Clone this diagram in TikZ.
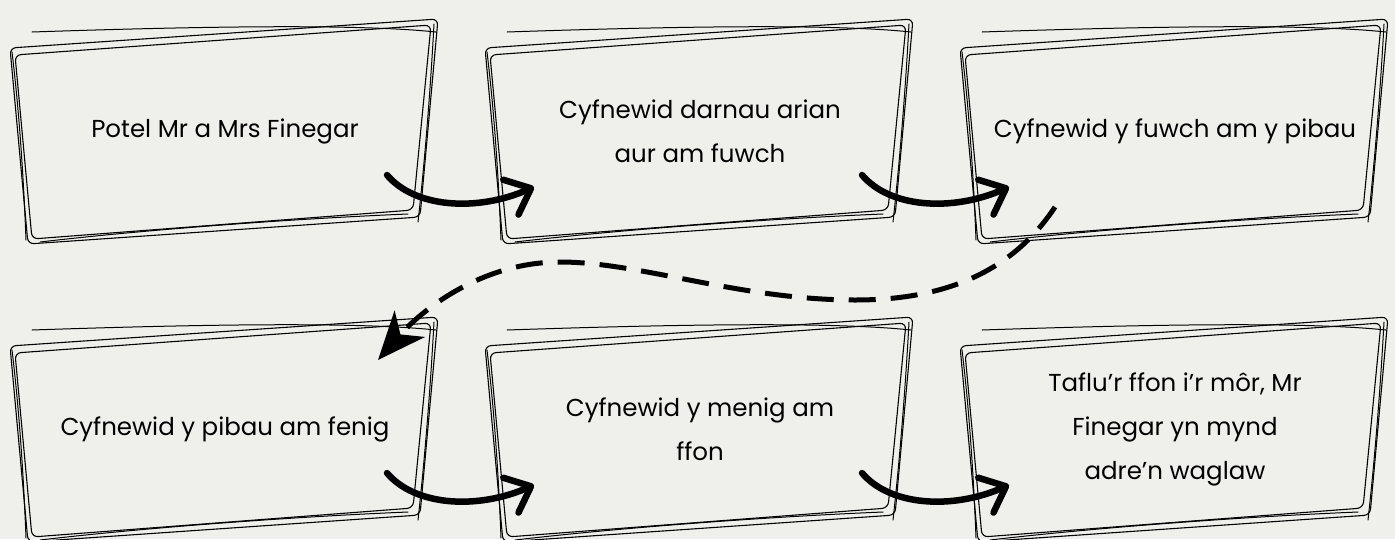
\documentclass[tikz,border=0pt]{standalone}
\usepackage{fontspec}
\setmainfont{Poppins}
\usetikzlibrary{arrows.meta,calc}
\definecolor{bg}{HTML}{EFEFEB}
\newcommand\skbox[4]{%
\begin{scope}[shift={(#2,#3)}]
 \draw[sk] (0,30) -- (428,1) -- (410,199) -- (18,226) -- cycle;
 \draw[sk] (5,37) -- (421,7) -- (403,192) -- (22,221) -- cycle;
 \draw[skl] (22,14) .. controls (200,8) and (350,6) .. (426,14);
 \draw[skl] (30,224) .. controls (150,210) and (300,200) .. (398,196);
 \draw[skl] (2,34) .. controls (10,100) and (14,170) .. (16,222);
 \draw[skl] (424,6) .. controls (420,80) and (414,150) .. (408,204);
 \node[txt] (#1) at (215,113) {#4};
 \coordinate (#1-out) at (377,157);
 \coordinate (#1-in) at (49,169);
 \coordinate (#1-dstart) at (95,189);
 \coordinate (#1-dend) at (368,44);
\end{scope}}
\begin{document}
\begin{tikzpicture}[x=1pt,y=-1pt,
  sk/.style={line width=1.1pt, rounded corners=6pt, line join=round},
  skl/.style={line width=1pt, line cap=round},
  txt/.style={align=center, font=\fontsize{24.5}{44}\selectfont, inner sep=0pt},
  carrow/.style={line width=6.5pt, line cap=round, -{Straight Barb[length=22pt,width=38pt,round]}},
  darrow/.style={line width=5pt, dash pattern=on 27pt off 15pt, -{Stealth[length=48pt,width=40pt,inset=14pt]}}]
\fill[bg] (0,0) rectangle (1395,539);
\useasboundingbox (0,0) rectangle (1395,539);
\skbox{b1}{10}{18}{Potel Mr a Mrs Finegar}
\skbox{b2}{485}{18}{Cyfnewid darnau arian\\aur am fuwch}
\skbox{b3}{960}{18}{Cyfnewid y fuwch am y pibau}
\skbox{b4}{10}{316}{Cyfnewid y pibau am fenig}
\skbox{b5}{485}{316}{Cyfnewid y menig am\\ffon}
\skbox{b6}{960}{316}{Taflu’r ffon i’r môr, Mr\\Finegar yn mynd\\adre’n waglaw}
\draw[carrow] (b1-out) .. controls +(28,33) and +(-57,25) .. (b2-in);
\draw[carrow] (b2-out) .. controls +(28,33) and +(-57,25) .. (b3-in);
\draw[carrow] (b4-out) .. controls +(28,33) and +(-57,25) .. (b5-in);
\draw[carrow] (b5-out) .. controls +(28,33) and +(-57,25) .. (b6-in);
\coordinate (d1) at (855,300);
\coordinate (d2) at (560,262);
\draw[darrow] (b3-dstart) .. controls +(-45,68) and +(85,0) .. (d1)
  .. controls +(-115,0) and +(80,0) .. (d2)
  .. controls +(-80,0) and +(42,-48) .. (b4-dend);
\end{tikzpicture}
\end{document}
